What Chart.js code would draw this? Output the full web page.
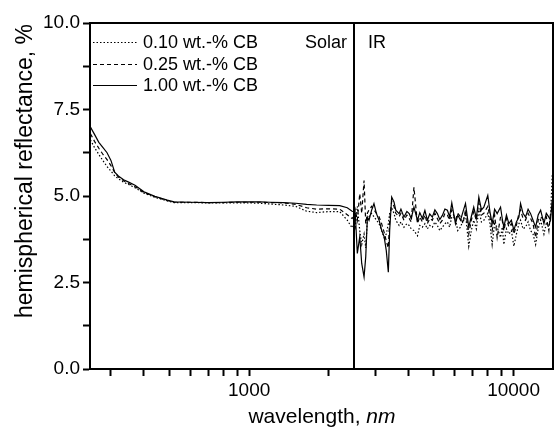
<!DOCTYPE html>
<html>
<head>
<meta charset="utf-8">
<script src="https://cdn.jsdelivr.net/npm/chart.js@4.4.1/dist/chart.umd.min.js"></script>
<style>
  html, body { margin: 0; padding: 0; background: #fff; }
  #wrap { width: 554px; height: 429px; }
</style>
</head>
<body>
<div id="wrap"><canvas id="reflChart" width="554" height="429"></canvas></div>
<script>
// wavelength in nm: solar part, then IR part
const solarWavelength = [
  251, 260, 270, 280, 290, 300, 310, 320, 335, 350, 370, 400, 440, 490, 520,
  600, 700, 800, 900, 1000, 1100, 1200, 1350, 1500, 1650, 1800, 2000, 2200, 2350, 2450, 2500
];
const irWavelength = [
  2520, 2565, 2620, 2665, 2720, 2760, 2800, 2840, 2905, 2965,
  3030, 3100, 3170, 3240, 3300, 3360, 3400, 3460, 3530, 3585,
  3690, 3750, 3850, 3950, 4030, 4100, 4200, 4330, 4420, 4520,
  4620, 4720, 4820, 4930, 5040, 5150, 5260, 5380, 5500, 5620,
  5730, 5840, 6030, 6150, 6300, 6440, 6580, 6770, 6920, 7070,
  7230, 7390, 7560, 7720, 7990, 8140, 8300, 8480, 8670, 8930,
  9060, 9190, 9400, 9600, 9810, 10030, 10250, 10480, 10630, 10860,
  11100, 11350, 11600, 11850, 12120, 12390, 12660, 13030, 13300, 13600,
  13800, 14000
];

// reflectance in %
const cb010Solar = [
  6.62, 6.40, 6.20, 6.02, 5.85, 5.72, 5.58, 5.50, 5.40, 5.33, 5.24, 5.08, 4.96, 4.86, 4.81,
  4.81, 4.80, 4.80, 4.80, 4.80, 4.79, 4.77, 4.74, 4.70, 4.56, 4.52, 4.55, 4.55, 4.30, 4.08, 4.20
];
const cb010Ir = [
  4.10, 4.70, 4.00, 3.60, 3.90, 3.50, 4.30, 4.40, 4.50, 4.40,
  4.30, 4.20, 4.00, 3.80, 3.90, 4.20, 4.50, 4.65, 4.50, 4.30,
  4.15, 4.25, 4.10, 4.20, 4.15, 4.05, 4.00, 3.85, 4.15, 4.10,
  4.20, 4.05, 4.15, 4.10, 4.25, 4.15, 4.00, 4.10, 4.20, 4.25,
  4.10, 4.40, 4.35, 4.00, 4.10, 4.30, 4.50, 3.55, 4.00, 4.30,
  4.05, 4.60, 4.25, 4.30, 4.50, 4.20, 3.60, 4.20, 4.10, 3.80,
  4.10, 3.60, 4.05, 3.90, 4.00, 3.55, 3.90, 4.20, 4.30, 4.05,
  4.10, 4.25, 4.00, 3.90, 3.60, 4.05, 4.30, 3.90, 4.20, 4.10,
  4.40, 5.60
];

const cb025Solar = [
  6.80, 6.58, 6.38, 6.20, 6.05, 5.88, 5.68, 5.55, 5.44, 5.36, 5.27, 5.10, 4.98, 4.87, 4.82,
  4.82, 4.81, 4.81, 4.82, 4.82, 4.82, 4.81, 4.80, 4.76, 4.66, 4.62, 4.63, 4.62, 4.46, 4.35, 4.42
];
const cb025Ir = [
  4.60, 4.30, 5.07, 4.50, 5.45, 4.20, 4.50, 4.60, 4.70, 4.60,
  4.50, 4.40, 4.20, 3.95, 3.70, 3.50, 4.30, 4.85, 4.70, 4.50,
  4.40, 4.50, 4.30, 4.45, 4.35, 4.25, 5.25, 4.20, 4.40, 4.25,
  4.45, 4.20, 4.35, 4.30, 4.50, 4.35, 4.20, 4.30, 4.50, 4.45,
  4.30, 4.60, 4.30, 4.50, 4.40, 4.20, 4.60, 3.90, 4.30, 4.55,
  4.30, 4.80, 4.45, 4.50, 4.70, 4.40, 4.00, 4.45, 3.80, 4.40,
  4.30, 4.00, 4.35, 4.10, 4.20, 3.90, 4.15, 4.50, 4.60, 4.35,
  4.30, 4.50, 4.35, 4.20, 3.80, 4.30, 4.40, 4.30, 4.40, 4.00,
  4.50, 4.60
];

const cb100Solar = [
  6.99, 6.78, 6.55, 6.40, 6.25, 6.03, 5.69, 5.58, 5.47, 5.40, 5.31, 5.12, 4.99, 4.88, 4.83,
  4.82, 4.81, 4.82, 4.83, 4.83, 4.83, 4.82, 4.81, 4.79, 4.76, 4.74, 4.73, 4.72, 4.66, 4.56, 4.55
];
const cb100Ir = [
  4.49, 3.34, 3.82, 3.05, 2.66, 3.24, 4.39, 4.30, 4.59, 4.78,
  4.49, 4.30, 4.01, 3.82, 3.43, 2.80, 4.01, 4.97, 4.83, 4.59,
  4.49, 4.62, 4.39, 4.55, 4.49, 4.35, 4.68, 4.30, 4.52, 4.35,
  4.58, 4.30, 4.48, 4.39, 4.60, 4.49, 4.32, 4.44, 4.62, 4.59,
  4.40, 4.80, 4.20, 4.45, 4.30, 4.55, 4.78, 4.10, 4.40, 4.68,
  4.35, 4.97, 4.60, 4.68, 5.02, 4.55, 4.20, 4.62, 4.49, 4.68,
  4.35, 4.10, 4.45, 4.20, 4.30, 4.01, 4.25, 4.39, 4.78, 4.50,
  4.39, 4.62, 4.49, 4.30, 4.10, 4.45, 4.59, 4.20, 4.50, 4.39,
  4.30, 4.88
];

const seriesLabels = ["0.10 wt.-% CB", "0.25 wt.-% CB", "1.00 wt.-% CB"];
const xTickValues = [300, 400, 500, 600, 700, 800, 900, 1000, 2000, 3000, 4000, 5000,
  6000, 7000, 8000, 9000, 10000];
const xTickLabels = [1000, 10000];
const yTickLabels = [0, 2.5, 5, 7.5, 10];
const solarIrBoundary = 2500;

const FONT = "'Liberation Sans', Arial, sans-serif";
const wavelength = solarWavelength.concat(irWavelength);

function toPoints(solar, ir) {
  const values = solar.concat(ir);
  return wavelength.map((w, i) => ({ x: w, y: values[i] }));
}

// frame, solar/IR divider, legend, region labels and axis titles
const decorations = {
  id: "decorations",
  afterDraw(chart) {
    const ctx = chart.ctx;
    const area = chart.chartArea;
    const xs = chart.scales.x;
    const divX = Math.round(xs.getPixelForValue(solarIrBoundary));

    ctx.save();
    ctx.strokeStyle = "#000";
    ctx.lineWidth = 2;
    ctx.strokeRect(area.left, area.top, area.right - area.left, area.bottom - area.top);
    ctx.beginPath();
    ctx.moveTo(divX, area.top);
    ctx.lineTo(divX, area.bottom);
    ctx.stroke();

    ctx.fillStyle = "#000";
    ctx.font = "18px " + FONT;
    ctx.textBaseline = "middle";
    ctx.textAlign = "right";
    ctx.fillText("Solar", divX - 7, area.top + 20);
    ctx.textAlign = "left";
    ctx.fillText("IR", divX + 14, area.top + 20);

    // legend inside the plot, top left
    chart.data.datasets.forEach((ds, i) => {
      const y = Math.round(area.top + 19 + i * 21.5) + 0.5;
      ctx.save();
      ctx.lineWidth = 1.2;
      ctx.setLineDash(ds.borderDash || []);
      ctx.beginPath();
      ctx.moveTo(area.left + 3, y);
      ctx.lineTo(area.left + 47, y);
      ctx.stroke();
      ctx.restore();
      ctx.textAlign = "left";
      ctx.fillText(ds.label, area.left + 53, y + 1);
    });

    // y title
    ctx.save();
    ctx.translate(26, 171);
    ctx.rotate(-Math.PI / 2);
    ctx.textAlign = "center";
    ctx.font = "23px " + FONT;
    ctx.fillText("hemispherical reflectance, %", 0, 0);
    ctx.restore();

    // x title with italic unit
    ctx.textBaseline = "alphabetic";
    ctx.textAlign = "left";
    ctx.font = "21px " + FONT;
    const part1 = "wavelength, ";
    const w1 = ctx.measureText(part1).width;
    ctx.font = "italic 21px " + FONT;
    const w2 = ctx.measureText("nm").width;
    const startX = 322 - (w1 + w2) / 2;
    ctx.font = "21px " + FONT;
    ctx.fillText(part1, startX, 423);
    ctx.font = "italic 21px " + FONT;
    ctx.fillText("nm", startX + w1, 423);
    ctx.restore();
  },
};

const lineStyle = {
  borderColor: "#000",
  borderWidth: 1.2,
  pointRadius: 0,
  tension: 0,
  fill: false,
};

new Chart(document.getElementById("reflChart").getContext("2d"), {
  type: "line",
  data: {
    datasets: [
      { ...lineStyle, label: seriesLabels[0], data: toPoints(cb010Solar, cb010Ir), borderDash: [1.5, 2] },
      { ...lineStyle, label: seriesLabels[1], data: toPoints(cb025Solar, cb025Ir), borderDash: [4, 3] },
      { ...lineStyle, label: seriesLabels[2], data: toPoints(cb100Solar, cb100Ir) },
    ],
  },
  options: {
    responsive: false,
    animation: false,
    layout: { padding: { top: 23, right: 1, left: 0, bottom: 0 } },
    plugins: {
      tooltip: { enabled: false },
      legend: { display: false },
    },
    scales: {
      x: {
        type: "logarithmic",
        min: 250,
        max: 14100,
        afterBuildTicks: (axis) => {
          axis.ticks = xTickValues.map((v) => ({ value: v }));
        },
        afterFit: (axis) => {
          axis.height = 60;
        },
        grid: {
          drawOnChartArea: false,
          drawTicks: true,
          tickLength: 7,
          tickWidth: 2,
          color: "#000",
        },
        border: { display: true, color: "#000", width: 2 },
        ticks: {
          autoSkip: false,
          maxRotation: 0,
          padding: 3,
          color: "#000",
          font: { family: FONT, size: 19 },
          callback: (v) => (xTickLabels.includes(v) ? String(v) : ""),
        },
      },
      y: {
        min: 0,
        max: 10,
        afterFit: (axis) => {
          axis.width = 90;
        },
        grid: {
          drawOnChartArea: false,
          drawTicks: true,
          tickLength: 7,
          tickWidth: 2,
          color: "#000",
        },
        border: { display: true, color: "#000", width: 2 },
        ticks: {
          stepSize: 1.25,
          padding: 3,
          color: "#000",
          font: { family: FONT, size: 19 },
          callback: (v) => (yTickLabels.includes(v) ? v.toFixed(1) : ""),
        },
      },
    },
  },
  plugins: [decorations],
});
</script>
</body>
</html>
